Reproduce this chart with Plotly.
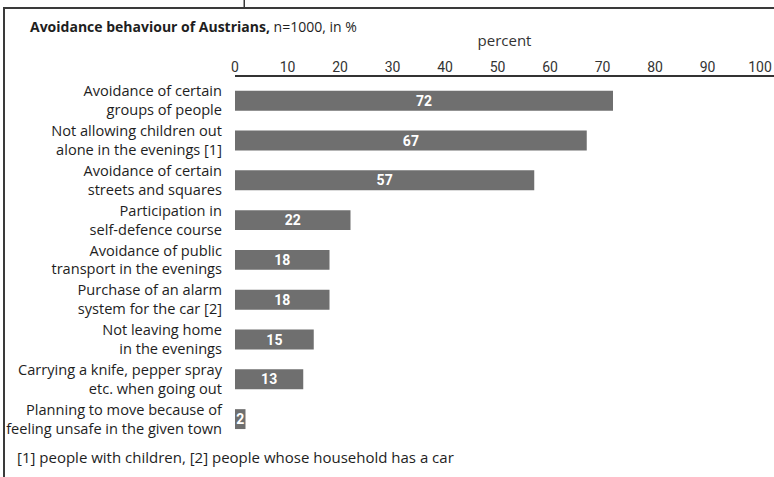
import plotly.graph_objects as go

# Survey answers, top to bottom
categories = [
    "Avoidance of certain<br>groups of people",
    "Not allowing children out<br>alone in the evenings [1]",
    "Avoidance of certain<br>streets and squares",
    "Participation in<br>self-defence course",
    "Avoidance of public<br>transport in the evenings",
    "Purchase of an alarm<br>system for the car [2]",
    "Not leaving home<br>in the evenings",
    "Carrying a knife, pepper spray<br>etc. when going out",
    "Planning to move because of<br>feeling unsafe in the given town",
]
values = [72, 67, 57, 22, 18, 18, 15, 13, 2]
tick_values = [0, 10, 20, 30, 40, 50, 60, 70, 80, 90, 100]

W, H = 774, 477
L, R, T, B = 235, 0, 77, 38
FONT = "Open Sans"
NUM_FONT = "Roboto"
TEXT = "#1e1e1e"
BAR = "#6f6f6f"
FRAME = "#3a3a3a"

pw, ph = W - L - R, H - T - B


def px(x):
    return (x - L) / pw


def py(y):
    return 1 - (y - T) / ph


fig = go.Figure(
    go.Bar(
        x=values,
        y=categories,
        orientation="h",
        marker=dict(color=BAR, line=dict(width=0)),
        width=0.5,
        text=[str(v) for v in values],
        textposition="inside",
        insidetextanchor="middle",
        textangle=0,
        constraintext="none",
        textfont=dict(family=NUM_FONT, size=14, color="white", weight="bold"),
        cliponaxis=False,
    )
)

fig.update_layout(
    width=W,
    height=H,
    margin=dict(l=L, r=R, t=T, b=B, autoexpand=False),
    paper_bgcolor="white",
    plot_bgcolor="white",
    showlegend=False,
    font=dict(family=FONT, size=14, color=TEXT),
    title=dict(
        text="<b>Avoidance behaviour of Austrians,</b> n=1000, in %",
        x=30 / W,
        xanchor="left",
        y=1 - 27 / H,
        yanchor="middle",
        font=dict(family=FONT, size=14, color=TEXT),
    ),
    xaxis=dict(
        side="top",
        automargin=False,
        range=[0, pw / 5.25],
        tickvals=tick_values,
        ticktext=[str(v) for v in tick_values],
        showgrid=False,
        zeroline=False,
        showline=True,
        linecolor="#333333",
        linewidth=1.5,
        ticks="",
        ticklabelstandoff=-2,
        tickfont=dict(family=NUM_FONT, size=14, color="#333333"),
        title=dict(text="percent", standoff=8,
                   font=dict(family=FONT, size=15, color="#333333")),
    ),
    yaxis=dict(
        automargin=False,
        categoryorder="array",
        categoryarray=categories,
        range=[8.5, 8.5 - ph / 39.8],
        showgrid=False,
        zeroline=False,
        showline=False,
        ticks="",
        ticklabelstandoff=12,
        tickfont=dict(family=FONT, size=14.6, color=TEXT),
    ),
    bargap=0.5,
)


def bar_rect(x0, x1, y0, y1):
    # solid filled strip for the outer frame
    fig.add_shape(type="rect", xref="paper", yref="paper", layer="above",
                  x0=px(x0), x1=px(x1), y0=py(y0), y1=py(y1),
                  fillcolor=FRAME, line=dict(width=0))


bar_rect(3, 5, 7, H)        # left edge
bar_rect(3, W, 7, 9)        # top edge
bar_rect(243.5, 245, 0, 8)  # short divider above the top edge

fig.add_annotation(
    text="[1] people with children, [2] people whose household has a car",
    xref="paper", yref="paper", x=px(15), y=py(457),
    xanchor="left", yanchor="middle", showarrow=False,
    font=dict(family=FONT, size=15, color=TEXT),
)

fig.write_html("out.html")
